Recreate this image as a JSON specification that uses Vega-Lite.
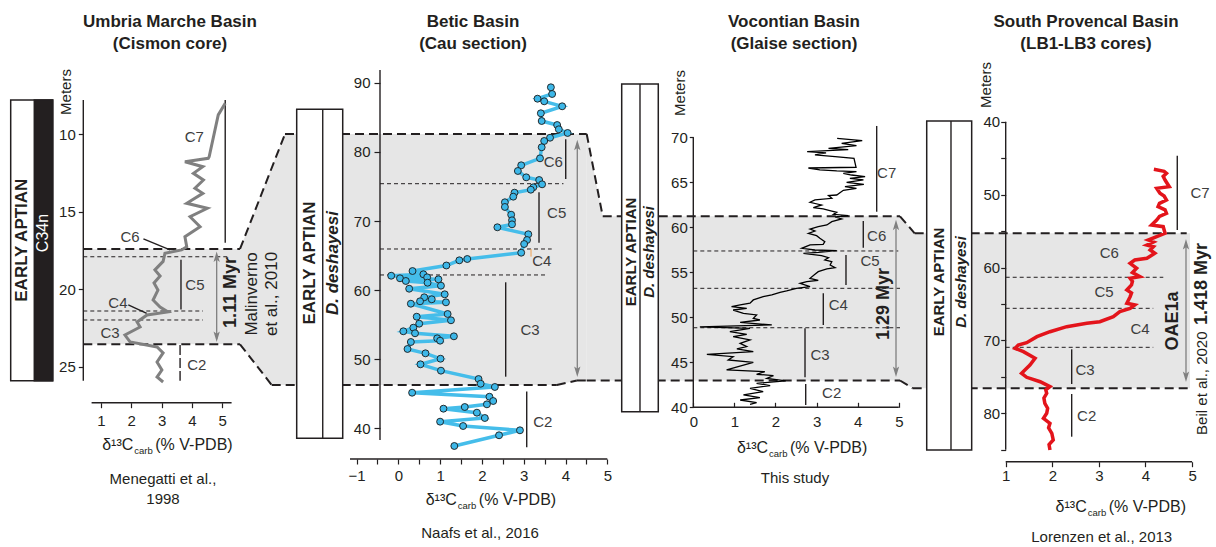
{
  "$schema": "https://vega.github.io/schema/vega-lite/v6.json",
  "width": 1216,
  "height": 547,
  "autosize": "none",
  "padding": 0,
  "background": "white",
  "config": {
    "view": {"stroke": null},
    "font": "Liberation Sans",
    "axis": {"domain": false, "grid": false, "labelFont": "Liberation Sans", "labelFontSize": 15, "labelColor": "#231f20", "tickColor": "#231f20", "tickWidth": 1.2, "title": null, "labelFlush": false, "labelOverlap": false},
    "text": {"font": "Liberation Sans", "color": "#231f20", "align": "center", "baseline": "middle"}
  },
  "datasets": {
    "umbria": [{"x":5.10,"y":8.00},{"x":4.87,"y":8.75},{"x":4.57,"y":11.45},{"x":4.54,"y":11.55},{"x":3.77,"y":11.77},{"x":4.36,"y":12.09},{"x":4.05,"y":12.52},{"x":4.38,"y":12.95},{"x":4.10,"y":13.48},{"x":4.36,"y":13.81},{"x":3.83,"y":14.45},{"x":4.51,"y":14.77},{"x":3.94,"y":15.32},{"x":4.27,"y":15.96},{"x":3.77,"y":16.61},{"x":3.83,"y":17.25},{"x":3.66,"y":17.46},{"x":3.11,"y":17.68},{"x":3.05,"y":18.2},{"x":2.78,"y":18.75},{"x":2.95,"y":19.14},{"x":2.75,"y":19.59},{"x":2.88,"y":20.05},{"x":2.72,"y":20.69},{"x":2.95,"y":21.14},{"x":3.21,"y":21.46},{"x":2.52,"y":21.66},{"x":2.19,"y":22.11},{"x":2.29,"y":22.43},{"x":1.79,"y":22.95},{"x":1.96,"y":23.40},{"x":2.85,"y":23.72},{"x":3.05,"y":24.10},{"x":2.85,"y":24.69},{"x":3.01,"y":25.21},{"x":2.85,"y":25.66},{"x":3.05,"y":25.98}],
    "betic": [{"x":3.65,"y":89.35},{"x":3.68,"y":88.38},{"x":3.33,"y":87.70},{"x":3.49,"y":87.32},{"x":3.92,"y":86.60},{"x":3.41,"y":85.59},{"x":3.43,"y":84.47},{"x":3.80,"y":83.89},{"x":3.84,"y":83.27},{"x":4.05,"y":82.74},{"x":3.63,"y":82.05},{"x":3.49,"y":81.58},{"x":3.43,"y":80.67},{"x":3.39,"y":79.07},{"x":2.94,"y":78.06},{"x":2.86,"y":77.24},{"x":3.06,"y":76.32},{"x":3.37,"y":75.93},{"x":3.44,"y":75.31},{"x":3.23,"y":74.88},{"x":3.17,"y":74.53},{"x":2.78,"y":74.10},{"x":2.75,"y":73.52},{"x":2.55,"y":72.71},{"x":2.55,"y":72.03},{"x":2.70,"y":70.91},{"x":2.72,"y":70.10},{"x":2.72,"y":69.52},{"x":2.37,"y":69.09},{"x":3.11,"y":68.08},{"x":3.08,"y":67.25},{"x":3.01,"y":66.67},{"x":2.94,"y":65.41},{"x":1.65,"y":64.50},{"x":1.46,"y":64.31},{"x":1.15,"y":63.56},{"x":0.34,"y":62.76},{"x":-0.17,"y":62.08},{"x":0.60,"y":62.29},{"x":0.69,"y":61.85},{"x":0.04,"y":61.71},{"x":0.96,"y":61.56},{"x":0.18,"y":61.32},{"x":0.70,"y":61.07},{"x":1.02,"y":60.64},{"x":0.26,"y":60.20},{"x":1.11,"y":59.39},{"x":0.62,"y":58.96},{"x":0.80,"y":58.67},{"x":0.52,"y":58.38},{"x":1.14,"y":58.23},{"x":0.30,"y":58.03},{"x":1.18,"y":56.54},{"x":0.44,"y":56.15},{"x":1.26,"y":55.63},{"x":0.50,"y":55.14},{"x":0.36,"y":54.56},{"x":0.12,"y":54.04},{"x":0.40,"y":53.75},{"x":1.33,"y":53.31},{"x":0.93,"y":53.02},{"x":1.00,"y":52.68},{"x":0.30,"y":52.49},{"x":0.22,"y":51.48},{"x":0.65,"y":50.85},{"x":1.01,"y":50.07},{"x":0.53,"y":49.26},{"x":1.02,"y":48.34},{"x":1.92,"y":47.13},{"x":1.97,"y":46.45},{"x":2.31,"y":45.98},{"x":0.33,"y":45.15},{"x":2.18,"y":44.57},{"x":2.27,"y":43.95},{"x":2.12,"y":43.47},{"x":1.59,"y":43.08},{"x":1.08,"y":42.84},{"x":1.88,"y":42.26},{"x":2.07,"y":41.49},{"x":1.00,"y":40.96},{"x":1.55,"y":40.33},{"x":2.91,"y":39.71},{"x":2.41,"y":38.99},{"x":1.34,"y":37.44}],
    "vocontian": [{"x":3.50,"y":69.89},{"x":4.11,"y":69.63},{"x":3.61,"y":69.33},{"x":3.97,"y":69.07},{"x":3.29,"y":68.78},{"x":3.77,"y":68.63},{"x":2.77,"y":68.41},{"x":3.23,"y":68.26},{"x":2.96,"y":68.04},{"x":3.45,"y":67.85},{"x":3.91,"y":67.67},{"x":3.96,"y":66.67},{"x":2.80,"y":66.59},{"x":3.08,"y":66.37},{"x":3.49,"y":66.26},{"x":3.97,"y":66.18},{"x":3.65,"y":66.0},{"x":3.85,"y":65.81},{"x":4.18,"y":65.63},{"x":3.81,"y":65.44},{"x":4.14,"y":65.26},{"x":3.73,"y":65.0},{"x":4.15,"y":64.78},{"x":3.69,"y":64.52},{"x":3.97,"y":64.33},{"x":3.65,"y":64.11},{"x":3.49,"y":63.59},{"x":3.29,"y":63.52},{"x":3.37,"y":63.22},{"x":2.96,"y":63.04},{"x":2.84,"y":62.78},{"x":3.12,"y":62.48},{"x":2.92,"y":62.19},{"x":3.16,"y":62.04},{"x":3.37,"y":61.81},{"x":3.49,"y":61.67},{"x":3.41,"y":61.44},{"x":3.77,"y":61.30},{"x":3.45,"y":61.15},{"x":3.61,"y":60.93},{"x":3.37,"y":60.63},{"x":3.25,"y":60.26},{"x":3.04,"y":60.07},{"x":2.84,"y":59.81},{"x":2.96,"y":59.59},{"x":2.80,"y":59.33},{"x":3.00,"y":59.07},{"x":3.08,"y":58.78},{"x":3.20,"y":58.41},{"x":3.16,"y":58.11},{"x":2.84,"y":58.04},{"x":2.64,"y":57.67},{"x":2.96,"y":57.48},{"x":3.49,"y":57.41},{"x":3.04,"y":57.22},{"x":2.68,"y":57.11},{"x":3.12,"y":56.85},{"x":3.29,"y":56.63},{"x":3.20,"y":56.37},{"x":3.37,"y":56.19},{"x":3.33,"y":55.81},{"x":3.45,"y":55.52},{"x":3.25,"y":55.37},{"x":3.04,"y":55.07},{"x":2.96,"y":54.78},{"x":2.84,"y":54.33},{"x":3.04,"y":54.11},{"x":2.76,"y":53.96},{"x":2.60,"y":53.78},{"x":2.84,"y":53.41},{"x":2.51,"y":53.22},{"x":2.27,"y":52.93},{"x":2.11,"y":52.78},{"x":1.91,"y":52.48},{"x":1.70,"y":52.30},{"x":1.46,"y":51.93},{"x":1.38,"y":51.56},{"x":1.14,"y":51.37},{"x":0.93,"y":51.19},{"x":1.30,"y":51.0},{"x":0.97,"y":50.81},{"x":1.22,"y":50.44},{"x":1.54,"y":50.26},{"x":1.46,"y":49.89},{"x":1.62,"y":49.70},{"x":1.14,"y":49.44},{"x":1.91,"y":49.15},{"x":0.16,"y":48.93},{"x":1.38,"y":48.78},{"x":0.89,"y":48.41},{"x":1.30,"y":48.11},{"x":0.97,"y":47.85},{"x":1.38,"y":47.48},{"x":1.14,"y":47.11},{"x":1.30,"y":46.74},{"x":1.06,"y":46.48},{"x":1.46,"y":46.19},{"x":0.33,"y":45.89},{"x":0.97,"y":45.63},{"x":0.85,"y":45.26},{"x":1.46,"y":45.0},{"x":0.81,"y":44.15},{"x":1.74,"y":43.96},{"x":1.54,"y":43.67},{"x":1.95,"y":43.52},{"x":1.79,"y":43.22},{"x":2.25,"y":42.93},{"x":1.54,"y":42.67},{"x":1.87,"y":42.41},{"x":1.38,"y":42.11},{"x":1.70,"y":41.74},{"x":1.22,"y":41.37},{"x":1.62,"y":41.07},{"x":1.14,"y":40.81},{"x":1.54,"y":40.52},{"x":1.38,"y":40.33}],
    "provencal": [{"x":4.18,"y":46.53},{"x":4.40,"y":46.8},{"x":4.45,"y":47.08},{"x":4.38,"y":47.5},{"x":4.42,"y":48.0},{"x":4.51,"y":48.92},{"x":4.24,"y":49.14},{"x":4.31,"y":49.82},{"x":4.40,"y":50.2},{"x":4.45,"y":50.74},{"x":4.30,"y":51.2},{"x":4.27,"y":51.66},{"x":4.42,"y":52.1},{"x":4.45,"y":52.56},{"x":4.30,"y":53.0},{"x":4.24,"y":53.48},{"x":4.13,"y":54.17},{"x":4.38,"y":54.40},{"x":4.42,"y":55.31},{"x":4.24,"y":55.78},{"x":4.06,"y":56.23},{"x":4.17,"y":56.5},{"x":4.03,"y":56.92},{"x":4.17,"y":57.15},{"x":4.10,"y":57.6},{"x":4.20,"y":58.05},{"x":4.03,"y":58.74},{"x":3.77,"y":58.97},{"x":3.67,"y":59.42},{"x":3.81,"y":60.11},{"x":3.72,"y":60.7},{"x":3.88,"y":61.26},{"x":3.67,"y":61.48},{"x":3.72,"y":61.9},{"x":3.70,"y":62.40},{"x":3.60,"y":63.09},{"x":3.70,"y":63.5},{"x":3.67,"y":64.01},{"x":3.60,"y":64.91},{"x":3.77,"y":65.14},{"x":3.67,"y":65.6},{"x":3.45,"y":66.06},{"x":3.31,"y":66.75},{"x":3.02,"y":67.43},{"x":2.74,"y":67.65},{"x":2.31,"y":68.12},{"x":1.95,"y":68.81},{"x":1.67,"y":69.49},{"x":1.45,"y":70.31},{"x":1.27,"y":70.63},{"x":1.20,"y":71.08},{"x":1.38,"y":71.55},{"x":1.63,"y":72.46},{"x":1.52,"y":73.37},{"x":1.34,"y":74.51},{"x":1.45,"y":75.06},{"x":1.74,"y":75.67},{"x":1.95,"y":76.35},{"x":1.86,"y":76.8},{"x":1.88,"y":77.26},{"x":1.82,"y":77.9},{"x":1.84,"y":78.63},{"x":1.90,"y":79.3},{"x":1.88,"y":80.0},{"x":1.81,"y":80.69},{"x":1.95,"y":81.37},{"x":1.92,"y":82.0},{"x":1.99,"y":82.74},{"x":2.02,"y":83.66},{"x":1.93,"y":84.3},{"x":1.95,"y":85.03}]
  },
  "layer": [
    {
      "encoding": {
        "x": {"field": "x", "type": "quantitative", "scale": {"domain": [-2.333, 37.799], "nice": false, "zero": false}, "axis": {"orient": "bottom", "offset": -144.3, "values": [1,2,3,4,5], "tickSize": 5, "labelPadding": 6, "zindex": 2}},
        "y": {"field": "y", "type": "quantitative", "scale": {"domain": [1.335, 36.626], "nice": false, "zero": false, "reverse": true}, "axis": {"orient": "left", "offset": -83.3, "values": [10,15,20,25], "tickSize": 5, "labelPadding": 3, "zindex": 2}}
      },
      "layer": [
        {"data": {"values": [{"x":0.416,"y":17.4,"y2":23.55},{"x":5.587,"y":17.4,"y2":23.55}]}, "mark": {"type": "area", "orient": "vertical", "color": "#e6e6e6"}, "encoding": {"y2": {"field": "y2"}}},
        {"data": {"values": [{"x":0.416,"y":17.9,"x2":5.257,"y2":17.9},{"x":0.416,"y":21.4,"x2":4.366,"y2":21.4},{"x":0.416,"y":21.98,"x2":4.366,"y2":21.98}]}, "mark": {"type": "rule", "color": "#231f20", "strokeWidth": 1, "strokeDash": [4,3]}, "encoding": {"x2": {"field": "x2"}, "y2": {"field": "y2"}}},
        {"data": {"values": [{"x":0.416,"y":17.4,"x2":5.587,"y2":17.4},{"x":0.416,"y":23.55,"x2":5.587,"y2":23.55}]}, "mark": {"type": "rule", "color": "#231f20", "strokeWidth": 2, "strokeDash": [9,5]}, "encoding": {"x2": {"field": "x2"}, "y2": {"field": "y2"}}},
        {"data": {"values": [{"x":-1.980,"x2":-0.594,"y":7.787,"y2":25.897}]}, "mark": {"type": "rect", "fill": "white", "stroke": "#231f20", "strokeWidth": 1.5}, "encoding": {"x2": {"field": "x2"}, "y2": {"field": "y2"}}},
        {"data": {"values": [{"x":-1.201,"x2":-0.594,"y":7.787,"y2":25.897}]}, "mark": {"type": "rect", "fill": "#231f20", "stroke": "#231f20", "strokeWidth": 1.5}, "encoding": {"x2": {"field": "x2"}, "y2": {"field": "y2"}}},
        {"data": {"values": [{"x":0.416,"y":7.787,"x2":0.416,"y2":25.897},{"x":0.69,"y":27.316,"x2":5.31,"y2":27.316},{"x":5.10,"y":7.787,"x2":5.10,"y2":17.0},{"x":3.64,"y":18.1,"x2":3.64,"y2":21.3},{"x":2.40,"y":16.75,"x2":3.28,"y2":17.46},{"x":1.90,"y":21.01,"x2":2.51,"y2":21.55}]}, "mark": {"type": "rule", "color": "#231f20", "strokeWidth": 1.4}, "encoding": {"x2": {"field": "x2"}, "y2": {"field": "y2"}}},
        {"data": {"values": [{"x":3.61,"y":23.6,"x2":3.61,"y2":25.9}]}, "mark": {"type": "rule", "color": "#231f20", "strokeWidth": 1.4, "strokeDash": [10,3]}, "encoding": {"x2": {"field": "x2"}, "y2": {"field": "y2"}}},
        {"data": {"values": [{"x":4.818,"y":17.8,"x2":4.818,"y2":23.2}]}, "mark": {"type": "rule", "color": "#7f7f7f", "strokeWidth": 1.3}, "encoding": {"x2": {"field": "x2"}, "y2": {"field": "y2"}}},
        {"data": {"values": [{"x":4.818,"y":17.9}]}, "mark": {"type": "point", "shape": "M0,-1L0.6,1L0,0.55L-0.6,1Z", "size": 110, "filled": true, "color": "#808080", "opacity": 1}},
        {"data": {"values": [{"x":4.818,"y":23.06}]}, "mark": {"type": "point", "shape": "M0,1L0.6,-1L0,-0.55L-0.6,-1Z", "size": 110, "filled": true, "color": "#808080", "opacity": 1}},
        {"data": {"name": "umbria"}, "mark": {"type": "line", "color": "#808080", "strokeWidth": 3}, "encoding": {"order": {"field": "y", "sort": "ascending"}}},
        {"data": {"values": [{"x":4.08,"y":10.15,"t":"C7"},{"x":1.96,"y":16.6,"t":"C6"},{"x":4.10,"y":19.7,"t":"C5"},{"x":1.56,"y":20.9,"t":"C4"},{"x":1.30,"y":22.84,"t":"C3"},{"x":4.16,"y":24.9,"t":"C2"}]}, "mark": {"type": "text", "fontSize": 15, "color": "#3d3d3d"}, "encoding": {"text": {"field": "t"}}},
        {"data": {"values": [{"x":3.277,"y":2.755,"t":"Umbria Marche Basin"},{"x":3.277,"y":4.174,"t":"(Cismon core)"}]}, "mark": {"type": "text", "fontSize": 17, "fontWeight": "bold"}, "encoding": {"text": {"field": "t"}}},
        {"data": {"values": [{"x":-1.591,"y":16.83,"t":"EARLY APTIAN"}]}, "mark": {"type": "text", "fontSize": 17, "fontWeight": "bold", "angle": 270}, "encoding": {"text": {"field": "t"}}},
        {"data": {"values": [{"x":-0.898,"y":16.37,"t":"C34n"}]}, "mark": {"type": "text", "fontSize": 16, "angle": 270, "color": "white"}, "encoding": {"text": {"field": "t"}}},
        {"data": {"values": [{"x":5.29,"y":20.2,"t":"1.11 Myr"}]}, "mark": {"type": "text", "fontSize": 18, "fontWeight": "bold", "angle": 270}, "encoding": {"text": {"field": "t"}}},
        {"data": {"values": [{"x":-0.155,"y":7.271,"t":"Meters"}]}, "mark": {"type": "text", "fontSize": 15, "angle": 270}, "encoding": {"text": {"field": "t"}}},
        {"data": {"values": [{"x":2.066,"y":30.045,"t":"δ¹³C"}]}, "mark": {"type": "text", "fontSize": 16, "align": "right"}, "encoding": {"text": {"field": "t"}}},
        {"data": {"values": [{"x":2.066,"y":30.045,"t":"carb"}]}, "mark": {"type": "text", "fontSize": 9.5, "align": "left", "dx": 1, "dy": 6}, "encoding": {"text": {"field": "t"}}},
        {"data": {"values": [{"x":2.066,"y":30.045,"t":"(% V-PDB)"}]}, "mark": {"type": "text", "fontSize": 16, "align": "left", "dx": 22}, "encoding": {"text": {"field": "t"}}},
        {"data": {"values": [{"x":3.046,"y":32.24,"t":"Menegatti et al.,"},{"x":3.046,"y":33.53,"t":"1998"}]}, "mark": {"type": "text", "fontSize": 15}, "encoding": {"text": {"field": "t"}}}
      ]
    },
    {
      "encoding": {
        "x": {"field": "x", "type": "quantitative", "scale": {"domain": [-9.529, 19.562], "nice": false, "zero": false}, "axis": {"orient": "bottom", "offset": -88, "values": [-1,-0.5,0,0.5,1,1.5,2,2.5,3,3.5,4,4.5,5], "labelExpr": "datum.value % 1 === 0 ? datum.label : ''", "tickSize": 5, "labelPadding": 4, "zindex": 2}},
        "y": {"field": "y", "type": "quantitative", "scale": {"domain": [22.822, 101.983], "nice": false, "zero": false}, "axis": {"orient": "left", "offset": -380, "values": [40,50,60,70,80,90], "tickSize": 6, "labelPadding": 4, "zindex": 2}}
      },
      "layer": [
        {"data": {"values": [{"x":-3.787,"y":65.95,"y2":52.16},{"x":-3.029,"y":77.67,"y2":46.27},{"x":-2.711,"y":82.59,"y2":46.27},{"x":3.792,"y":82.59,"y2":46.27},{"x":4.27,"y":82.59,"y2":46.92},{"x":4.507,"y":82.59,"y2":46.92}]}, "mark": {"type": "area", "orient": "vertical", "color": "#e6e6e6"}, "encoding": {"y2": {"field": "y2"}}},
        {"data": {"values": [{"x":-0.438,"y":75.4,"x2":3.951,"y2":75.4},{"x":-0.438,"y":65.95,"x2":3.670,"y2":65.95},{"x":-0.438,"y":62.19,"x2":3.512,"y2":62.19}]}, "mark": {"type": "rule", "color": "#231f20", "strokeWidth": 1, "strokeDash": [4,3]}, "encoding": {"x2": {"field": "x2"}, "y2": {"field": "y2"}}},
        {"data": {"values": [{"x":-3.787,"y":65.95,"x2":-2.711,"y2":82.59},{"x":-2.711,"y":82.59,"x2":4.507,"y2":82.59},{"x":-3.787,"y":52.16,"x2":-3.029,"y2":46.27},{"x":-3.029,"y":46.27,"x2":3.792,"y2":46.27},{"x":3.792,"y":46.27,"x2":4.27,"y2":46.92},{"x":4.27,"y":46.92,"x2":4.507,"y2":46.92}]}, "mark": {"type": "rule", "color": "#231f20", "strokeWidth": 2, "strokeDash": [9,5]}, "encoding": {"x2": {"field": "x2"}, "y2": {"field": "y2"}}},
        {"data": {"values": [{"x":-2.431,"x2":-1.330,"y":38.55,"y2":86.17}]}, "mark": {"type": "rect", "fill": "white", "stroke": "#231f20", "strokeWidth": 1.5}, "encoding": {"x2": {"field": "x2"}, "y2": {"field": "y2"}}},
        {"data": {"values": [{"x":-0.438,"y":38.3,"x2":-0.438,"y2":91.85},{"x":-1.156,"y":35.557,"x2":5.0,"y2":35.557},{"x":-1.808,"y":38.55,"x2":-1.808,"y2":86.17},{"x":4.005,"y":81.82,"x2":4.005,"y2":76.08},{"x":3.366,"y":74.15,"x2":3.366,"y2":66.86},{"x":2.569,"y":61.13,"x2":2.569,"y2":47.47},{"x":3.072,"y":45.31,"x2":3.072,"y2":37.26}]}, "mark": {"type": "rule", "color": "#231f20", "strokeWidth": 1.4}, "encoding": {"x2": {"field": "x2"}, "y2": {"field": "y2"}}},
        {"data": {"values": [{"x":3.175,"y":65.95,"x2":3.175,"y2":64.84}]}, "mark": {"type": "rule", "color": "#f0a050", "strokeWidth": 1}, "encoding": {"x2": {"field": "x2"}, "y2": {"field": "y2"}}},
        {"data": {"values": [{"x":4.282,"y":81.2,"x2":4.282,"y2":48.0}]}, "mark": {"type": "rule", "color": "#7f7f7f", "strokeWidth": 1.3}, "encoding": {"x2": {"field": "x2"}, "y2": {"field": "y2"}}},
        {"data": {"values": [{"x":4.282,"y":81.0}]}, "mark": {"type": "point", "shape": "M0,-1L0.6,1L0,0.55L-0.6,1Z", "size": 110, "filled": true, "color": "#808080", "opacity": 1}},
        {"data": {"values": [{"x":4.282,"y":48.19}]}, "mark": {"type": "point", "shape": "M0,1L0.6,-1L0,-0.55L-0.6,-1Z", "size": 110, "filled": true, "color": "#808080", "opacity": 1}},
        {"data": {"name": "betic"}, "mark": {"type": "line", "color": "#45bdea", "strokeWidth": 3.5}, "encoding": {"order": {"field": "y", "sort": "descending"}}},
        {"data": {"name": "betic"}, "mark": {"type": "point", "shape": "circle", "filled": true, "fill": "#3db7e8", "stroke": "#1a1a1a", "strokeWidth": 0.9, "size": 48, "opacity": 1}},
        {"data": {"values": [{"x":3.708,"y":78.58,"t":"C6"},{"x":3.789,"y":71.20,"t":"C5"},{"x":3.431,"y":64.25,"t":"C4"},{"x":3.151,"y":54.24,"t":"C3"},{"x":3.455,"y":40.96,"t":"C2"}]}, "mark": {"type": "text", "fontSize": 15, "color": "#3d3d3d"}, "encoding": {"text": {"field": "t"}}},
        {"data": {"values": [{"x":1.787,"y":98.80,"t":"Betic Basin"},{"x":1.787,"y":95.62,"t":"(Cau section)"}]}, "mark": {"type": "text", "fontSize": 17, "fontWeight": "bold"}, "encoding": {"text": {"field": "t"}}},
        {"data": {"values": [{"x":-2.112,"y":63.92,"t":"EARLY APTIAN"}]}, "mark": {"type": "text", "fontSize": 17, "fontWeight": "bold", "angle": 270}, "encoding": {"text": {"field": "t"}}},
        {"data": {"values": [{"x":-1.569,"y":63.92,"t":"D. deshayesi"}]}, "mark": {"type": "text", "fontSize": 17, "fontWeight": "bold", "fontStyle": "italic", "angle": 270}, "encoding": {"text": {"field": "t"}}},
        {"data": {"values": [{"x":-3.500,"y":59.44,"t":"Malinverno"},{"x":-3.029,"y":59.44,"t":"et al., 2010"}]}, "mark": {"type": "text", "fontSize": 17, "angle": 270}, "encoding": {"text": {"field": "t"}}},
        {"data": {"values": [{"x":1.40,"y":29.62,"t":"δ¹³C"}]}, "mark": {"type": "text", "fontSize": 16, "align": "right"}, "encoding": {"text": {"field": "t"}}},
        {"data": {"values": [{"x":1.40,"y":29.62,"t":"carb"}]}, "mark": {"type": "text", "fontSize": 9.5, "align": "left", "dx": 1, "dy": 6}, "encoding": {"text": {"field": "t"}}},
        {"data": {"values": [{"x":1.40,"y":29.62,"t":"(% V-PDB)"}]}, "mark": {"type": "text", "fontSize": 16, "align": "left", "dx": 22}, "encoding": {"text": {"field": "t"}}},
        {"data": {"values": [{"x":1.955,"y":24.89,"t":"Naafs et al., 2016"}]}, "mark": {"type": "text", "fontSize": 15}, "encoding": {"text": {"field": "t"}}}
      ]
    },
    {
      "encoding": {
        "x": {"field": "x", "type": "quantitative", "scale": {"domain": [-16.869, 12.718], "nice": false, "zero": false}, "axis": {"orient": "bottom", "offset": -139.7, "values": [0,1,2,3,4,5], "tickSize": -5, "labelPadding": 12, "zindex": 2}},
        "y": {"field": "y", "type": "quantitative", "scale": {"domain": [24.478, 85.256], "nice": false, "zero": false}, "axis": {"orient": "left", "offset": -693.3, "values": [40,45,50,55,60,65,70], "tickSize": 4, "labelPadding": 2, "zindex": 2}}
      },
      "layer": [
        {"data": {"values": [{"x":-2.594,"y":70.37,"y2":42.98},{"x":-2.204,"y":61.22,"y2":42.98},{"x":5.029,"y":61.22,"y2":42.98}]}, "mark": {"type": "area", "orient": "vertical", "color": "#e6e6e6"}, "encoding": {"y2": {"field": "y2"}}},
        {"data": {"values": [{"x":0,"y":57.37,"x2":4.988,"y2":57.37},{"x":0,"y":53.22,"x2":5.03,"y2":53.22},{"x":0,"y":48.84,"x2":5.03,"y2":48.84}]}, "mark": {"type": "rule", "color": "#231f20", "strokeWidth": 1, "strokeDash": [4,3]}, "encoding": {"x2": {"field": "x2"}, "y2": {"field": "y2"}}},
        {"data": {"values": [{"x":-2.594,"y":70.37,"x2":-2.204,"y2":61.22},{"x":-2.204,"y":61.22,"x2":5.029,"y2":61.22},{"x":-2.594,"y":42.98,"x2":5.029,"y2":42.98}]}, "mark": {"type": "rule", "color": "#231f20", "strokeWidth": 2, "strokeDash": [9,5]}, "encoding": {"x2": {"field": "x2"}, "y2": {"field": "y2"}}},
        {"data": {"values": [{"x":-1.742,"x2":-0.852,"y":39.51,"y2":75.92}]}, "mark": {"type": "rect", "fill": "white", "stroke": "#231f20", "strokeWidth": 1.5}, "encoding": {"x2": {"field": "x2"}, "y2": {"field": "y2"}}},
        {"data": {"values": [{"x":0,"y":40,"x2":0,"y2":70},{"x":0,"y":40,"x2":5,"y2":40},{"x":-1.297,"y":39.51,"x2":-1.297,"y2":75.92},{"x":4.462,"y":71.26,"x2":4.462,"y2":61.73},{"x":4.136,"y":60.70,"x2":4.136,"y2":57.73},{"x":3.715,"y":56.92,"x2":3.715,"y2":53.59},{"x":3.163,"y":52.67,"x2":3.163,"y2":49.14},{"x":2.718,"y":48.78,"x2":2.718,"y2":43.33},{"x":2.735,"y":42.59,"x2":2.735,"y2":40.26}]}, "mark": {"type": "rule", "color": "#231f20", "strokeWidth": 1.4}, "encoding": {"x2": {"field": "x2"}, "y2": {"field": "y2"}}},
        {"data": {"values": [{"x":4.932,"y":60.2,"x2":4.932,"y2":44.0}]}, "mark": {"type": "rule", "color": "#7f7f7f", "strokeWidth": 1.3}, "encoding": {"x2": {"field": "x2"}, "y2": {"field": "y2"}}},
        {"data": {"values": [{"x":4.932,"y":60.26}]}, "mark": {"type": "point", "shape": "M0,-1L0.6,1L0,0.55L-0.6,1Z", "size": 110, "filled": true, "color": "#808080", "opacity": 1}},
        {"data": {"values": [{"x":4.932,"y":43.96}]}, "mark": {"type": "point", "shape": "M0,1L0.6,-1L0,-0.55L-0.6,-1Z", "size": 110, "filled": true, "color": "#808080", "opacity": 1}},
        {"data": {"name": "vocontian"}, "mark": {"type": "line", "color": "#000000", "strokeWidth": 1.3}, "encoding": {"order": {"field": "y", "sort": "descending"}}},
        {"data": {"values": [{"x":4.706,"y":66.0,"t":"C7"},{"x":4.462,"y":59.03,"t":"C6"},{"x":4.299,"y":56.26,"t":"C5"},{"x":3.528,"y":51.37,"t":"C4"},{"x":3.083,"y":45.81,"t":"C3"},{"x":3.367,"y":41.56,"t":"C2"}]}, "mark": {"type": "text", "fontSize": 15, "color": "#3d3d3d"}, "encoding": {"text": {"field": "t"}}},
        {"data": {"values": [{"x":2.450,"y":82.81,"t":"Vocontian Basin"},{"x":2.450,"y":80.37,"t":"(Glaise section)"}]}, "mark": {"type": "text", "fontSize": 17, "fontWeight": "bold"}, "encoding": {"text": {"field": "t"}}},
        {"data": {"values": [{"x":-1.528,"y":57.26,"t":"EARLY APTIAN"}]}, "mark": {"type": "text", "fontSize": 15, "fontWeight": "bold", "angle": 270}, "encoding": {"text": {"field": "t"}}},
        {"data": {"values": [{"x":-1.080,"y":57.26,"t":"D. deshayesi"}]}, "mark": {"type": "text", "fontSize": 15, "fontWeight": "bold", "fontStyle": "italic", "angle": 270}, "encoding": {"text": {"field": "t"}}},
        {"data": {"values": [{"x":4.640,"y":51.48,"t":"1.29 Myr"}]}, "mark": {"type": "text", "fontSize": 18, "fontWeight": "bold", "angle": 270}, "encoding": {"text": {"field": "t"}}},
        {"data": {"values": [{"x":-0.324,"y":74.92,"t":"Meters"}]}, "mark": {"type": "text", "fontSize": 15, "angle": 270}, "encoding": {"text": {"field": "t"}}},
        {"data": {"values": [{"x":1.818,"y":35.44,"t":"δ¹³C"}]}, "mark": {"type": "text", "fontSize": 16, "align": "right"}, "encoding": {"text": {"field": "t"}}},
        {"data": {"values": [{"x":1.818,"y":35.44,"t":"carb"}]}, "mark": {"type": "text", "fontSize": 9.5, "align": "left", "dx": 1, "dy": 6}, "encoding": {"text": {"field": "t"}}},
        {"data": {"values": [{"x":1.818,"y":35.44,"t":"(% V-PDB)"}]}, "mark": {"type": "text", "fontSize": 16, "align": "left", "dx": 22}, "encoding": {"text": {"field": "t"}}},
        {"data": {"values": [{"x":2.474,"y":32.11,"t":"This study"}]}, "mark": {"type": "text", "fontSize": 15}, "encoding": {"text": {"field": "t"}}}
      ]
    },
    {
      "encoding": {
        "x": {"field": "x", "type": "quantitative", "scale": {"domain": [-20.582, 5.513], "nice": false, "zero": false}, "axis": {"orient": "bottom", "offset": -85.3, "values": [1,2,3,4,5], "tickSize": 5, "labelPadding": 2, "zindex": 2}},
        "y": {"field": "y", "type": "quantitative", "scale": {"domain": [23.306, 98.34], "nice": false, "zero": false, "reverse": true}, "axis": {"orient": "left", "offset": -1005.7, "values": [40,45,50,55,60,65,70,75,80,85], "labelExpr": "datum.value % 10 === 0 ? datum.label : ''", "tickSize": 5, "labelPadding": 1, "zindex": 2}}
      },
      "layer": [
        {"data": {"values": [{"x":-1.268,"y":52.98,"y2":75.50},{"x":-0.996,"y":54.99,"y2":76.57},{"x":-0.953,"y":55.31,"y2":76.57},{"x":4.955,"y":55.31,"y2":76.57}]}, "mark": {"type": "area", "orient": "vertical", "color": "#e6e6e6"}, "encoding": {"y2": {"field": "y2"}}},
        {"data": {"values": [{"x":1,"y":61.34,"x2":4.382,"y2":61.34},{"x":1,"y":65.6,"x2":4.167,"y2":65.6},{"x":1,"y":70.95,"x2":4.167,"y2":70.95}]}, "mark": {"type": "rule", "color": "#231f20", "strokeWidth": 1, "strokeDash": [4,3]}, "encoding": {"x2": {"field": "x2"}, "y2": {"field": "y2"}}},
        {"data": {"values": [{"x":-1.268,"y":52.98,"x2":-0.953,"y2":55.31},{"x":-0.953,"y":55.31,"x2":4.884,"y2":55.31},{"x":-1.268,"y":75.50,"x2":-0.996,"y2":76.57},{"x":-0.996,"y":76.57,"x2":4.955,"y2":76.57}]}, "mark": {"type": "rule", "color": "#231f20", "strokeWidth": 2, "strokeDash": [9,5]}, "encoding": {"x2": {"field": "x2"}, "y2": {"field": "y2"}}},
        {"data": {"values": [{"x":-0.695,"x2":0.270,"y":39.90,"y2":85.03}]}, "mark": {"type": "rect", "fill": "white", "stroke": "#231f20", "strokeWidth": 1.5}, "encoding": {"x2": {"field": "x2"}, "y2": {"field": "y2"}}},
        {"data": {"values": [{"x":1,"y":40,"x2":1,"y2":85},{"x":1,"y":86.64,"x2":5,"y2":86.64},{"x":-0.174,"y":39.90,"x2":-0.174,"y2":85.03},{"x":4.682,"y":44.66,"x2":4.682,"y2":54.86},{"x":2.416,"y":71.22,"x2":2.416,"y2":75.98},{"x":2.416,"y":77.35,"x2":2.416,"y2":83.21}]}, "mark": {"type": "rule", "color": "#231f20", "strokeWidth": 1.4}, "encoding": {"x2": {"field": "x2"}, "y2": {"field": "y2"}}},
        {"data": {"values": [{"x":4.869,"y":56.7,"x2":4.869,"y2":75.1}]}, "mark": {"type": "rule", "color": "#7f7f7f", "strokeWidth": 1.3}, "encoding": {"x2": {"field": "x2"}, "y2": {"field": "y2"}}},
        {"data": {"values": [{"x":4.869,"y":56.82}]}, "mark": {"type": "point", "shape": "M0,-1L0.6,1L0,0.55L-0.6,1Z", "size": 110, "filled": true, "color": "#808080", "opacity": 1}},
        {"data": {"values": [{"x":4.869,"y":74.98}]}, "mark": {"type": "point", "shape": "M0,1L0.6,-1L0,-0.55L-0.6,-1Z", "size": 110, "filled": true, "color": "#808080", "opacity": 1}},
        {"data": {"name": "provencal"}, "mark": {"type": "line", "color": "#e3141b", "strokeWidth": 3.5}, "encoding": {"order": {"field": "y", "sort": "ascending"}}},
        {"data": {"values": [{"x":5.170,"y":49.82,"t":"C7"},{"x":3.223,"y":58.05,"t":"C6"},{"x":3.109,"y":63.32,"t":"C5"},{"x":3.882,"y":68.48,"t":"C4"},{"x":2.702,"y":74.06,"t":"C3"},{"x":2.738,"y":80.37,"t":"C2"}]}, "mark": {"type": "text", "fontSize": 15, "color": "#3d3d3d"}, "encoding": {"text": {"field": "t"}}},
        {"data": {"values": [{"x":2.723,"y":26.32,"t":"South Provencal Basin"},{"x":2.723,"y":29.34,"t":"(LB1-LB3 cores)"}]}, "mark": {"type": "text", "fontSize": 17, "fontWeight": "bold"}, "encoding": {"text": {"field": "t"}}},
        {"data": {"values": [{"x":-0.438,"y":61.99,"t":"EARLY APTIAN"}]}, "mark": {"type": "text", "fontSize": 15, "fontWeight": "bold", "angle": 270}, "encoding": {"text": {"field": "t"}}},
        {"data": {"values": [{"x":0.047,"y":61.99,"t":"D. deshayesi"}]}, "mark": {"type": "text", "fontSize": 15, "fontWeight": "bold", "fontStyle": "italic", "angle": 270}, "encoding": {"text": {"field": "t"}}},
        {"data": {"values": [{"x":4.597,"y":67.34,"t":"OAE1a"},{"x":5.212,"y":62.27,"t":"1.418 Myr"}]}, "mark": {"type": "text", "fontSize": 18, "fontWeight": "bold", "angle": 270}, "encoding": {"text": {"field": "t"}}},
        {"data": {"values": [{"x":5.212,"y":75.87,"t":"Beil et al., 2020"}]}, "mark": {"type": "text", "fontSize": 15, "angle": 270}, "encoding": {"text": {"field": "t"}}},
        {"data": {"values": [{"x":0.577,"y":34.97,"t":"Meters"}]}, "mark": {"type": "text", "fontSize": 15, "angle": 270}, "encoding": {"text": {"field": "t"}}},
        {"data": {"values": [{"x":2.738,"y":92.81,"t":"δ¹³C"}]}, "mark": {"type": "text", "fontSize": 16, "align": "right"}, "encoding": {"text": {"field": "t"}}},
        {"data": {"values": [{"x":2.738,"y":92.81,"t":"carb"}]}, "mark": {"type": "text", "fontSize": 9.5, "align": "left", "dx": 1, "dy": 6}, "encoding": {"text": {"field": "t"}}},
        {"data": {"values": [{"x":2.738,"y":92.81,"t":"(% V-PDB)"}]}, "mark": {"type": "text", "fontSize": 16, "align": "left", "dx": 22}, "encoding": {"text": {"field": "t"}}},
        {"data": {"values": [{"x":3.060,"y":97.01,"t":"Lorenzen et al., 2013"}]}, "mark": {"type": "text", "fontSize": 15}, "encoding": {"text": {"field": "t"}}}
      ]
    }
  ],
  "resolve": {"scale": {"x": "independent", "y": "independent"}, "axis": {"x": "independent", "y": "independent"}}
}
